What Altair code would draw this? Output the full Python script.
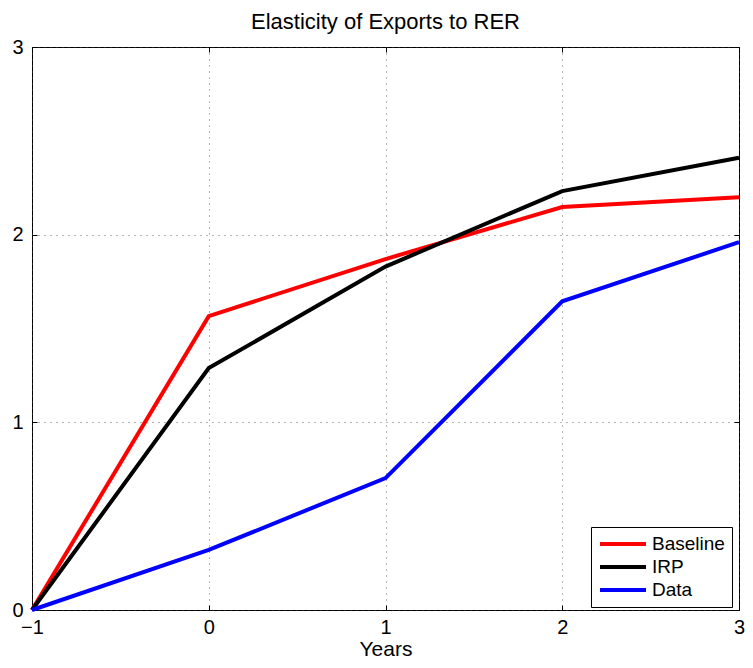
import altair as alt
import pandas as pd

years = [-1, 0, 1, 2, 3]
baseline = [0.0, 1.566, 1.87, 2.147, 2.20]
irp = [0.0, 1.289, 1.83, 2.232, 2.41]
data_vals = [0.0, 0.32, 0.703, 1.645, 1.96]
series_names = ["Baseline", "IRP", "Data"]
series_colors = ["#ff0000", "#000000", "#0000ff"]
x_ticks = [-1, 0, 1, 2, 3]
y_ticks = [0, 1, 2, 3]

rows = []
for name, vals in zip(series_names, [baseline, irp, data_vals]):
    for xv, yv in zip(years, vals):
        rows.append({"Years": xv, "value": yv, "series": name})
df = pd.DataFrame(rows)

FONT = "Liberation Sans"
xscale = alt.Scale(domain=[-1, 3], nice=False, zero=False)
yscale = alt.Scale(domain=[0, 3], nice=False)

lines = alt.Chart(df).mark_line(strokeWidth=4, strokeJoin="miter").encode(
    x=alt.X("Years:Q", scale=xscale,
            axis=alt.Axis(values=x_ticks, title="Years", orient="bottom", offset=-5,
                          tickSize=5, labelPadding=7, labelFlush=False,
                          grid=True, gridDash=[1, 5], gridColor="#444", gridOpacity=0.8,
                          titlePadding=1)),
    y=alt.Y("value:Q", scale=yscale,
            axis=alt.Axis(values=y_ticks, title=None, orient="left", offset=-5,
                          tickSize=5, labelPadding=9, labelFlush=False,
                          grid=True, gridDash=[1, 5], gridColor="#444", gridOpacity=0.8)),
    color=alt.Color("series:N",
                    scale=alt.Scale(domain=series_names, range=series_colors),
                    sort=series_names,
                    legend=alt.Legend(title=None, orient="none", legendX=559, legendY=480,
                                      symbolType="stroke", symbolStrokeWidth=4,
                                      symbolSize=2116, labelFontSize=19, labelFont=FONT,
                                      labelColor="#000",
                                      strokeColor="#000", fillColor="#fff",
                                      padding=7, rowPadding=3, labelOffset=4,
                                      clipHeight=20, symbolOffset=0, labelLimit=80)),
    order=alt.value(0),
)

frame = alt.Chart(df).mark_line(opacity=0).encode(
    x=alt.X("Years:Q", scale=xscale,
            axis=alt.Axis(values=x_ticks, title=None, orient="top", offset=-5,
                          tickSize=5, labels=False, grid=False)),
    y=alt.Y("value:Q", scale=yscale,
            axis=alt.Axis(values=y_ticks, title=None, orient="right", offset=-5,
                          tickSize=5, labels=False, grid=False)),
    detail="series:N",
)

chart = alt.layer(frame, lines).resolve_axis(x="independent", y="independent").properties(
    width=707, height=563,
    title=alt.TitleParams("Elasticity of Exports to RER", font=FONT, fontSize=22,
                          fontWeight="normal", color="#000", offset=3),
    autosize=alt.AutoSizeParams(type="none"),
    padding={"left": 24, "top": 39, "right": 6, "bottom": 50},
).configure_view(stroke="#000", strokeWidth=1).configure_axis(
    domain=False, tickColor="#000", tickWidth=1, labelFont=FONT, labelFontSize=20,
    labelColor="#000", titleFont=FONT, titleFontSize=21, titleFontWeight="normal",
    titleColor="#000",
)

chart.save("out.html", embed_options={"renderer": "svg", "actions": False})
